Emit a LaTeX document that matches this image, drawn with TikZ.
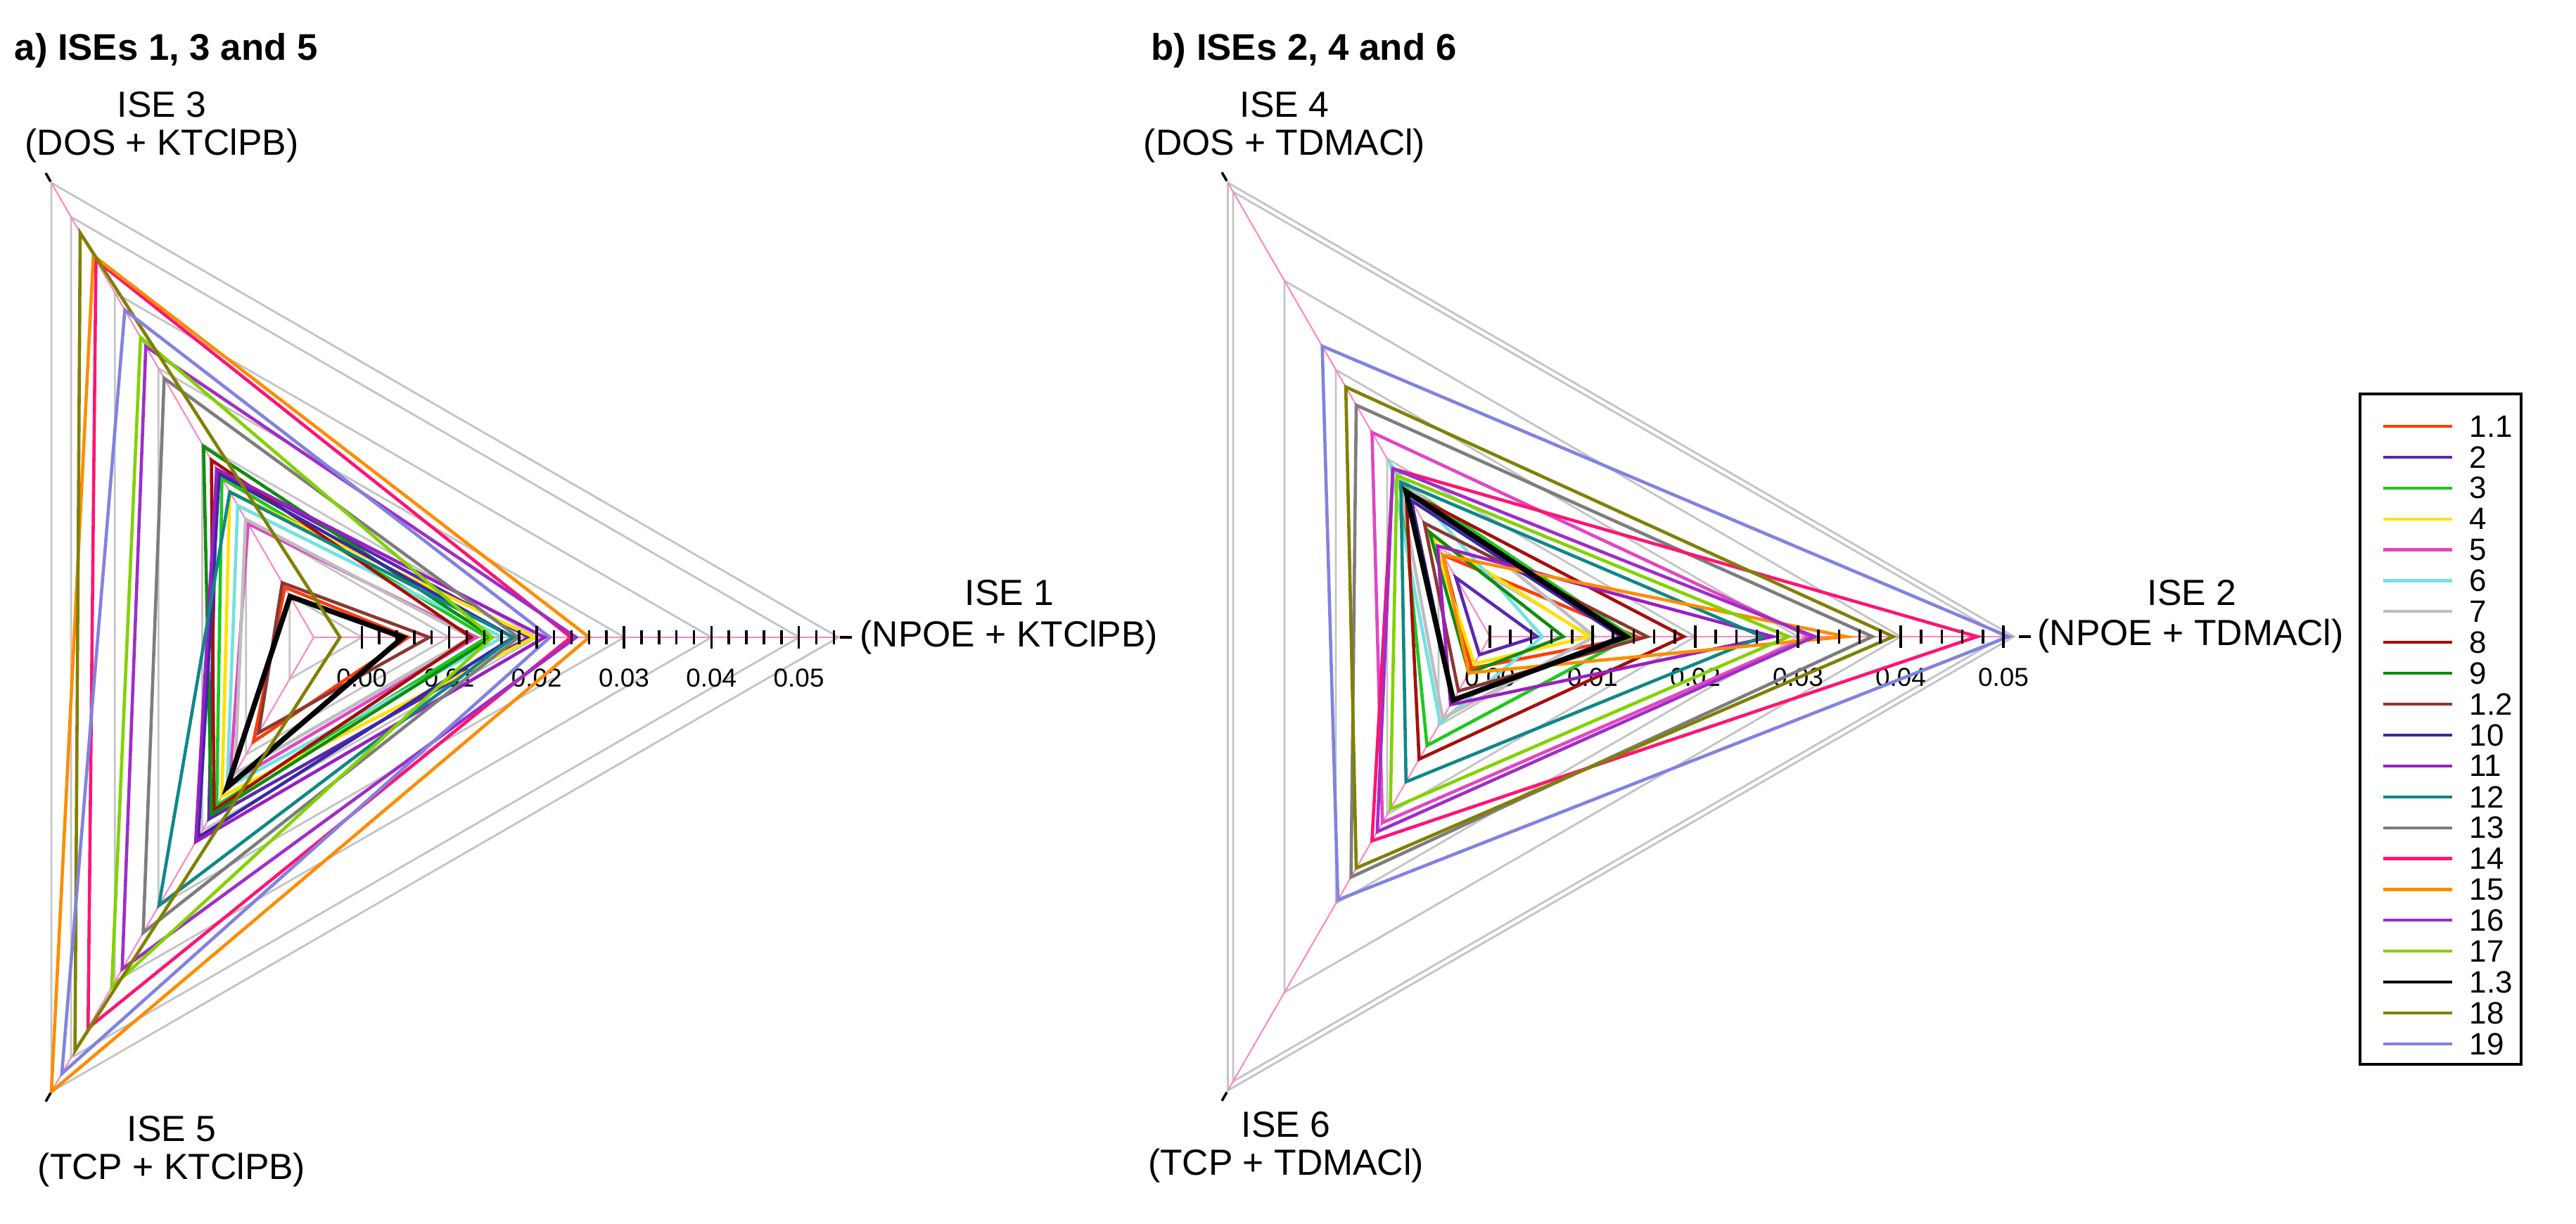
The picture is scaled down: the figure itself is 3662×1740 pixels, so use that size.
\documentclass[tikz,border=0pt]{standalone}
\usepackage{fontspec}
\setmainfont{Liberation Sans}
\definecolor{ringgray}{HTML}{C4C4C4}
\definecolor{axpink}{HTML}{FF88C0}
\tikzset{
  ring/.style={draw=ringgray,line width=0.8pt},
  serie/.style={line width=1.3pt,line join=miter},
  sA/.style={draw={rgb,255:red,255;green,60;blue,10}},
  sB/.style={draw={rgb,255:red,90;green,40;blue,180}},
  sC/.style={draw={rgb,255:red,30;green,200;blue,30}},
  sD/.style={draw={rgb,255:red,255;green,225;blue,0}},
  sE/.style={draw={rgb,255:red,225;green,70;blue,195}},
  sF/.style={draw={rgb,255:red,115;green,225;blue,225}},
  sG/.style={draw={rgb,255:red,190;green,190;blue,190}},
  sH/.style={draw={rgb,255:red,165;green,15;blue,10}},
  sI/.style={draw={rgb,255:red,15;green,140;blue,15}},
  sJ/.style={draw={rgb,255:red,140;green,55;blue,50}},
  sK/.style={draw={rgb,255:red,60;green,40;blue,165}},
  sL/.style={draw={rgb,255:red,155;green,30;blue,195}},
  sM/.style={draw={rgb,255:red,15;green,135;blue,135}},
  sN/.style={draw={rgb,255:red,125;green,125;blue,125}},
  sO/.style={draw={rgb,255:red,255;green,20;blue,115}},
  sP/.style={draw={rgb,255:red,255;green,140;blue,0}},
  sQ/.style={draw={rgb,255:red,160;green,45;blue,200}},
  sR/.style={draw={rgb,255:red,130;green,210;blue,0}},
  sS/.style={draw=black,line width=2.1pt},
  sT/.style={draw={rgb,255:red,128;green,128;blue,0}},
  sU/.style={draw={rgb,255:red,130;green,130;blue,225}},
  lab/.style={font=\fontsize{14.7}{17}\selectfont,inner sep=0pt},
  leglab/.style={font=\fontsize{12.5}{14}\selectfont,inner sep=0pt,anchor=west},
  ticklab/.style={font=\fontsize{10.5}{12}\selectfont,inner sep=0pt},
  ttl/.style={font=\fontsize{15}{18}\selectfont\bfseries,inner sep=0pt,anchor=west},
}
\begin{document}
\begin{tikzpicture}[x=0.1mm,y=0.1mm]
\useasboundingbox (0,0) rectangle (3662,1740);
\fill[white] (0,0) rectangle (3662,1740);
% ---------- Panel a ----------
\node[ttl] (ta) at (20,1668) {a) ISEs 1, 3 and 5};
\begin{scope}[shift={(446,834)}]
  \foreach \f in {0.092,0.258,0.425,0.592,0.758,0.925,1.0}
    \draw[ring] (0:{\f*746}) -- (120:{\f*746}) -- (240:{\f*746}) -- cycle;
  \foreach \a in {0,120,240} \draw[axpink,line width=0.6pt] (0,0) -- (\a:746);
  \foreach \v/\t in {0/0.00,1/0.01,2/0.02,3/0.03,4/0.04,5/0.05}
    \node[ticklab] at ({(\v*0.01+0.0055)/0.06*746},-58) {\t};
  \foreach \c/\p/\q/\r in {sA/0.18/0.11/0.23, sB/0.41/0.37/0.40, sC/0.33/0.35/0.37,
      sD/0.42/0.32/0.35, sE/0.31/0.25/0.32, sF/0.36/0.29/0.33, sG/0.30/0.26/0.30,
      sH/0.30/0.39/0.38, sI/0.34/0.42/0.39, sJ/0.22/0.12/0.21, sK/0.38/0.36/0.44,
      sL/0.44/0.37/0.45, sM/0.38/0.32/0.59, sN/0.39/0.57/0.65, sO/0.49/0.83/0.86,
      sP/0.525/0.84/1.0, sQ/0.50/0.64/0.73, sR/0.34/0.66/0.77, sS/0.17/0.09/0.33,
      sT/0.05/0.89/0.91, sU/0.45/0.72/0.96}
    \draw[serie,\c] (0:{\p*746}) -- (120:{\q*746}) -- (240:{\r*746}) -- cycle;
  \foreach \i in {0,...,27}{
    \pgfmathsetmacro{\xx}{(\i*0.002+0.0055)/0.06*746}
    \pgfmathsetmacro{\hh}{ifthenelse(mod(\i,5)==0,16,10)}
    \draw[black,line width=1pt] (\xx,-\hh) -- (\xx,\hh);}
  \draw[black,line width=1pt] (748,0) -- (765,0);
  \draw[black,line width=1pt] (120:748) -- (120:762);
  \draw[black,line width=1pt] (240:748) -- (240:762);
\end{scope}
\node[lab] (l3a) at (230,1591) {ISE 3};
\node[lab] (l3b) at (230,1533) {(DOS + KTClPB)};
\node[lab] (l5a) at (244,135) {ISE 5};
\node[lab] (l5b) at (244,77) {(TCP + KTClPB)};
\node[lab] (l1a) at (1435,897) {ISE 1};
\node[lab,anchor=west] (l1b) at (1222,834) {(NPOE + KTClPB)};
% ---------- Panel b ----------
\node[ttl] (tb) at (1636,1668) {b) ISEs 2, 4 and 6};
\begin{scope}[shift={(2118,835)}]
  \foreach \f in {0.196,0.392,0.588,0.784,0.98,1.0}
    \draw[ring] (0:{\f*745}) -- (120:{\f*745}) -- (240:{\f*745}) -- cycle;
  \foreach \a in {0,120,240} \draw[axpink,line width=0.6pt] (0,0) -- (\a:745);
  \foreach \v/\t in {0/0.00,1/0.01,2/0.02,3/0.03,4/0.04,5/0.05}
    \node[ticklab] at ({\v*0.01/0.051*745},-58) {\t};
  \foreach \c/\p/\q/\r in {sA/0.28/0.18/0.07, sB/0.09/0.13/0.04, sC/0.27/0.34/0.24,
      sD/0.19/0.22/0.06, sE/0.61/0.45/0.41, sF/0.10/0.38/0.19, sG/0.20/0.35/0.18,
      sH/0.37/0.32/0.27, sI/0.14/0.23/0.08, sJ/0.30/0.25/0.12, sK/0.25/0.30/0.14,
      sL/0.54/0.20/0.15, sM/0.52/0.34/0.32, sN/0.73/0.51/0.53, sO/0.93/0.37/0.45,
      sP/0.68/0.18/0.08, sQ/0.62/0.37/0.43, sR/0.57/0.355/0.38, sS/0.26/0.32/0.14,
      sT/0.77/0.55/0.51, sU/0.99/0.64/0.58}
    \draw[serie,\c] (0:{\p*745}) -- (120:{\q*745}) -- (240:{\r*745}) -- cycle;
  \foreach \i in {0,...,25}{
    \pgfmathsetmacro{\xx}{\i*0.002/0.051*745}
    \pgfmathsetmacro{\hh}{ifthenelse(mod(\i,5)==0,16,10)}
    \draw[black,line width=1pt] (\xx,-\hh) -- (\xx,\hh);}
  \draw[black,line width=1pt] (752,0) -- (769,0);
  \draw[black,line width=1pt] (120:748) -- (120:762);
  \draw[black,line width=1pt] (240:748) -- (240:762);
\end{scope}
\node[lab] (l4a) at (1826,1591) {ISE 4};
\node[lab] (l4b) at (1826,1533) {(DOS + TDMACl)};
\node[lab] (l6a) at (1828,141) {ISE 6};
\node[lab] (l6b) at (1828,83) {(TCP + TDMACl)};
\node[lab] (l2a) at (3116,897) {ISE 2};
\node[lab,anchor=west] (l2b) at (2896,836) {(NPOE + TDMACl)};
% ---------- Legend ----------
\draw[black,line width=1pt] (3355,227) rectangle (3584,1180);
\foreach \c/\t [count=\i from 0] in {sA/1.1,sB/2,sC/3,sD/4,sE/5,sF/6,sG/7,sH/8,sI/9,sJ/1.2,
    sK/10,sL/11,sM/12,sN/13,sO/14,sP/15,sQ/16,sR/17,sS/1.3,sT/18,sU/19}{
  \draw[\c,line width=1.2pt] (3388,{1134-\i*43.9}) -- (3486,{1134-\i*43.9});
  \node[leglab] at (3510,{1134-\i*43.9}) {\t};}
\end{tikzpicture}
\end{document}
